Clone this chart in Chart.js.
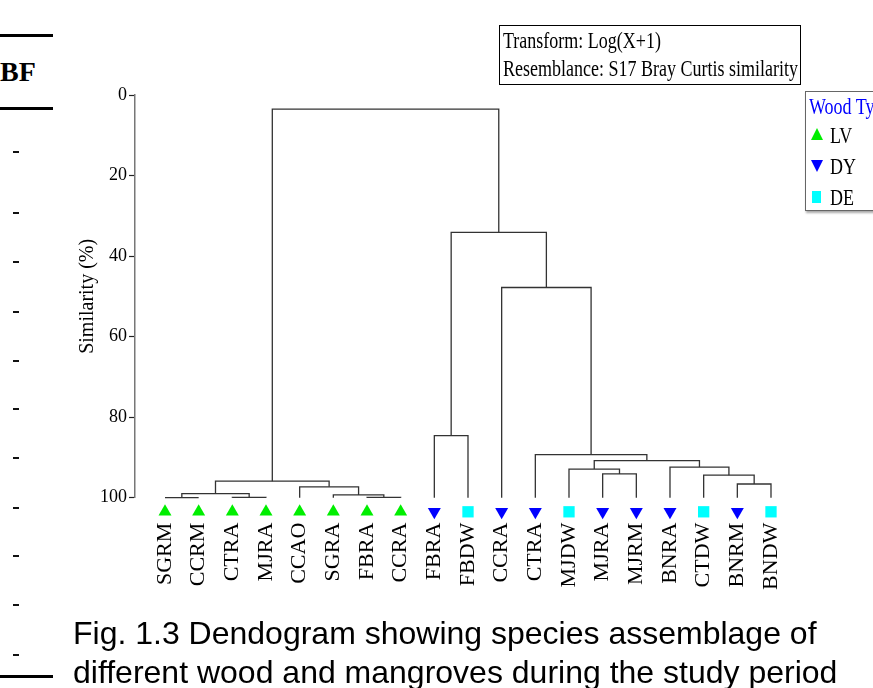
<!DOCTYPE html>
<html>
<head>
<meta charset="utf-8">
<script src="https://cdn.jsdelivr.net/npm/chart.js@4.4.1/dist/chart.umd.min.js"></script>
<style>
body { margin: 0; background: #fff; }
#page { position: relative; width: 873px; height: 688px; overflow: hidden; font-family: 'Liberation Serif', 'Times New Roman', serif; color: #000; }
#chart-box { position: absolute; left: 0; top: 0; width: 873px; height: 688px; }
.rule { position: absolute; left: 0; width: 53px; height: 3px; background: #000; }
.dash { position: absolute; left: 13px; width: 6px; height: 2px; background: #111; }
#bf { position: absolute; left: 0; top: 54px; font-size: 28px; font-weight: bold; line-height: 36px; }
#transform-box { position: absolute; left: 499px; top: 25px; width: 300px; height: 58px; border: 1.5px solid #000; overflow: hidden; }
#transform-box div { position: absolute; left: 3px; font-size: 18px; line-height: 20px; transform: scaleY(1.25); transform-origin: left top; white-space: nowrap; }
#legend-box { position: absolute; left: 805px; top: 91px; width: 90px; height: 118px; border: 1.5px solid #666; box-shadow: 1px 2px 2px #aaa; background: #fff; }
#legend-box .t { position: absolute; left: 3px; font-size: 18px; line-height: 20px; transform: scaleY(1.25); transform-origin: left top; white-space: nowrap; }
.mk { position: absolute; left: 5px; width: 0; height: 0; }
.up { border-left: 6px solid transparent; border-right: 6px solid transparent; border-bottom: 12px solid #00ee00; }
.down { border-left: 6px solid transparent; border-right: 6px solid transparent; border-top: 12px solid #0000ff; }
.sq { width: 9px; height: 12px; background: #00ffff; }
#caption { position: absolute; left: 73px; top: 614px; font-family: 'Liberation Sans', Arial, sans-serif; font-size: 32px; line-height: 39px; white-space: nowrap; }
</style>
</head>
<body>
<div id="page">
  <div class="rule" style="top:34px"></div>
  <div id="bf">BF</div>
  <div class="rule" style="top:107px"></div>
  <div class="rule" style="top:675px"></div>
  <div id="chart-box"><canvas id="dendro-chart" width="873" height="688"></canvas></div>
  <div id="transform-box">
    <div style="top:2px">Transform: Log(X+1)</div>
    <div style="top:30px">Resemblance: S17 Bray Curtis similarity</div>
  </div>
  <div id="legend-box">
    <div class="t" style="top:2px; color:#0000ff">Wood Type</div>
    <div class="mk up" style="top:36px"></div>
    <div class="t" style="top:31px; left:24px">LV</div>
    <div class="mk down" style="top:68px"></div>
    <div class="t" style="top:62px; left:24px">DY</div>
    <div class="mk sq" style="top:99px; left:6px"></div>
    <div class="t" style="top:93px; left:24px">DE</div>
  </div>
  <div id="caption">Fig. 1.3 Dendogram showing species assemblage of<br>different wood and mangroves during the study period</div>
</div>
<script>
// leaves, left to right
const leafLabels = ['SGRM', 'CCRM', 'CTRA', 'MJRA', 'CCAO', 'SGRA', 'FBRA', 'CCRA',
    'FBRA', 'FBDW', 'CCRA', 'CTRA', 'MJDW', 'MJRA', 'MJRM', 'BNRA', 'CTDW', 'BNRM', 'BNDW']
const leafGroups = ['LV', 'LV', 'LV', 'LV', 'LV', 'LV', 'LV', 'LV',
    'DY', 'DE', 'DY', 'DY', 'DE', 'DY', 'DY', 'DY', 'DE', 'DY', 'DE']

// merge k joins node mergeLeft[k] and mergeRight[k] at mergeSim[k] (%)
// new node id = leafLabels.length + k
const mergeLeft  = [0, 2, 19, 6, 5, 4, 21, 8, 13, 12, 17, 16, 15, 28, 11, 10, 26, 25]
const mergeRight = [1, 3, 20, 7, 22, 23, 24, 9, 14, 27, 18, 29, 30, 31, 32, 33, 34, 35]
const mergeSim   = [100, 99.9, 99.0, 99.9, 99.3, 97.3, 95.9, 84.6, 94.1, 92.9, 96.6, 94.4, 92.4, 90.8, 89.3, 47.8, 34.1, 3.5]

const yTicks = [0, 20, 40, 60, 80, 100]
const dashRows = [151, 212, 261, 311, 360, 408, 457, 507, 555, 604, 654]

const serif = "'Liberation Serif', 'Times New Roman', serif"
const markerLevel = 103.5

dashRows.forEach(y => {
    const d = document.createElement('div')
    d.className = 'dash'
    d.style.top = y + 'px'
    document.getElementById('page').appendChild(d)
})

let nodeX = leafLabels.map((_, i) => i)
let nodeY = leafLabels.map(() => 100)
let lineSets = []
mergeLeft.forEach((a, k) => {
    const b = mergeRight[k]
    const s = mergeSim[k]
    lineSets.push({
        data: [
            { x: nodeX[a], y: nodeY[a] },
            { x: nodeX[a], y: s },
            { x: nodeX[b], y: s },
            { x: nodeX[b], y: nodeY[b] }
        ],
        showLine: true,
        borderColor: '#333',
        borderWidth: 1.3,
        pointRadius: 0,
        clip: false
    })
    nodeX.push((nodeX[a] + nodeX[b]) / 2)
    nodeY.push(s)
})

const groupStyle = {
    LV: { color: '#00ee00', style: 'triangle', rotation: 0, radius: 7.5 },
    DY: { color: '#0000ff', style: 'triangle', rotation: 180, radius: 7.5 },
    DE: { color: '#00ffff', style: 'rect', rotation: 0, radius: 8 }
}

const markerSets = Object.keys(groupStyle).map(g => {
    const st = groupStyle[g]
    return {
        label: g,
        isMarker: true,
        data: leafGroups.map((grp, i) => grp === g ? { x: i, y: markerLevel } : null).filter(p => p),
        pointStyle: st.style,
        rotation: st.rotation,
        pointRadius: st.radius,
        backgroundColor: st.color,
        borderColor: st.color,
        borderWidth: 0,
        clip: false
    }
})

// leaf markers sit just under the 100% line, outside the plot area;
// widen the area while those datasets draw so the points are not skipped
const leafMarkerArea = {
    id: 'leafMarkerArea',
    beforeDatasetDraw(chart, args) {
        if (!chart.data.datasets[args.index].isMarker) return
        this.saved = chart.chartArea
        chart.chartArea = Object.assign({}, this.saved, { bottom: this.saved.bottom + 40 })
    },
    afterDatasetDraw(chart, args) {
        if (!chart.data.datasets[args.index].isMarker) return
        chart.chartArea = this.saved
    }
}

const dendro = new Chart(document.getElementById('dendro-chart'), {
    type: 'scatter',
    data: { datasets: lineSets.concat(markerSets) },
    plugins: [leafMarkerArea],
    options: {
        responsive: false,
        animation: false,
        layout: { padding: { top: 95, right: 68, bottom: 0, left: 0 } },
        plugins: { legend: { display: false }, tooltip: { enabled: false } },
        scales: {
            x: {
                type: 'linear',
                min: -0.891,
                max: 19.01,
                afterBuildTicks: s => { s.ticks = leafLabels.map((_, i) => ({ value: i })) },
                afterFit: s => { s.height = 190.3 },
                grid: { display: false, drawTicks: false },
                border: { display: false },
                ticks: {
                    autoSkip: false,
                    minRotation: 90,
                    maxRotation: 90,
                    padding: 25,
                    color: '#000',
                    font: { family: serif, size: 22 },
                    callback: v => leafLabels[v]
                }
            },
            y: {
                reverse: true,
                min: 0,
                max: 100,
                afterBuildTicks: s => { s.ticks = yTicks.map(v => ({ value: v })) },
                afterFit: s => { s.width = 135 },
                grid: { drawOnChartArea: false, tickLength: 6, tickColor: '#222', tickWidth: 1.2 },
                border: { color: '#777', width: 1.5 },
                ticks: { padding: 2, color: '#000', font: { family: serif, size: 18 } },
                title: {
                    display: true,
                    text: 'Similarity (%)',
                    color: '#000',
                    font: { family: serif, size: 20 },
                    padding: { top: 76, bottom: 0 }
                }
            }
        }
    }
})
</script>
</body>
</html>
